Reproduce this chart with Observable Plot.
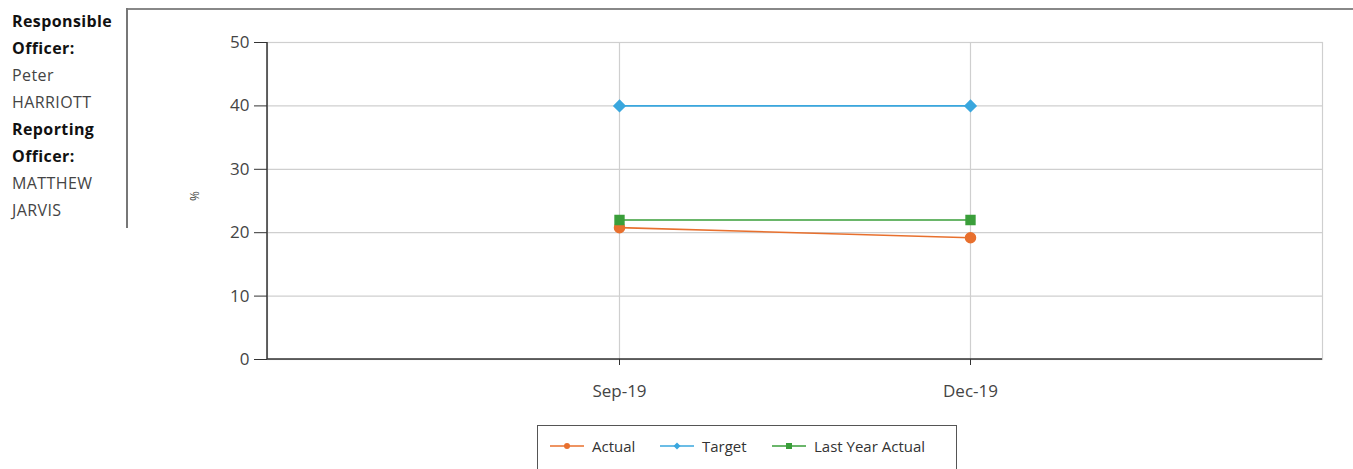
<!DOCTYPE html>
<html>
<head>
<meta charset="utf-8">
<script src="https://cdn.jsdelivr.net/npm/d3@7"></script>
<script src="https://cdn.jsdelivr.net/npm/@observablehq/plot@0.6"></script>
<style>
  html, body { margin: 0; padding: 0; background: #fff; }
  body { width: 1353px; height: 469px; position: relative; overflow: hidden; font-family: "Open Sans", "Noto Sans", sans-serif; }
  #chart { position: absolute; left: 0; top: 0; }
  #info { position: absolute; left: 12px; top: 8px; font-size: 16px; letter-spacing: 0.4px; line-height: 27px; color: #444; }
  #info b { color: #111; }
  .vline { position: absolute; left: 126px; top: 8px; width: 1.5px; height: 220px; background: #777; }
  .hline { position: absolute; left: 126px; top: 8px; width: 1227px; height: 1.5px; background: #888; }
  #legend { position: absolute; left: 537px; top: 425px; width: 420px; height: 50px; border: 1.5px solid #555; box-sizing: border-box; font-size: 15px; color: #333; }
  #legend .item { position: absolute; top: 10px; display: flex; align-items: center; white-space: nowrap; }
  #legend svg { margin-right: 8px; }
</style>
</head>
<body>
<div class="hline"></div>
<div class="vline"></div>
<div id="info"></div>
<div id="chart"></div>
<div id="legend"></div>
<script>
const months = ["Sep-19", "Dec-19"];
const actual = [20.8, 19.2];
const target = [40, 40];
const lastYearActual = [22, 22];
const seriesNames = ["Actual", "Target", "Last Year Actual"];
const seriesColors = ["#e8702e", "#3aa7de", "#3a9e3a"];
const seriesSymbols = ["circle", "diamond2", "square"];
const yTicks = [0, 10, 20, 30, 40, 50];
const infoLines = [["Responsible", true], ["Officer:", true], ["Peter", false], ["HARRIOTT", false], ["Reporting", true], ["Officer:", true], ["MATTHEW", false], ["JARVIS", false]];

document.getElementById("info").innerHTML = infoLines.map(([t, b]) => b ? `<b>${t}</b>` : t).join("<br>");

const seriesValues = [actual, target, lastYearActual];
const data = [];
seriesNames.forEach((s, i) => months.forEach((m, j) => data.push({series: s, month: m, value: seriesValues[i][j]})));

const chart = Plot.plot({
  width: 1353,
  height: 415,
  marginLeft: 267,
  marginRight: 31,
  marginTop: 42,
  marginBottom: 56,
  style: {fontFamily: "'Open Sans', 'Noto Sans', sans-serif", fontSize: "17px", color: "#444", background: "transparent"},
  x: {type: "point", domain: months, padding: 1, label: null},
  y: {domain: [0, 50], ticks: yTicks, label: null},
  color: {domain: seriesNames, range: seriesColors},
  symbol: {domain: seriesNames, range: seriesSymbols},
  marks: [
    Plot.frame({stroke: "#cfcfcf", strokeWidth: 1.2}),
    Plot.gridY(yTicks, {stroke: "#cfcfcf", strokeOpacity: 1, strokeWidth: 1.2}),
    Plot.gridX(months, {stroke: "#cfcfcf", strokeOpacity: 1, strokeWidth: 1.2}),
    Plot.axisY(yTicks, {tickSize: 13, tickPadding: 5, stroke: "#333", fontSize: 17, label: null}),
    Plot.text(["%"], {frameAnchor: "left", dx: -72, rotate: -90, fontSize: 12, fill: "#444"}),
    Plot.axisX(months, {tickSize: 6, tickPadding: 19, stroke: "#333", fontSize: 17, label: null}),
    Plot.line(data, {x: "month", y: "value", z: "series", stroke: "series", strokeWidth: 1.6}),
    Plot.dot(data, {x: "month", y: "value", fill: "series", stroke: "series", symbol: "series", r: 5})
  ]
});
document.getElementById("chart").appendChild(chart);

// dark axis lines on bottom and left of plot area
const svg = d3.select(chart);
svg.append("line").attr("x1", 267).attr("x2", 267).attr("y1", 42).attr("y2", 359).attr("stroke", "#333").attr("stroke-width", 1.5);
svg.append("line").attr("x1", 267).attr("x2", 1322).attr("y1", 359).attr("y2", 359).attr("stroke", "#333").attr("stroke-width", 1.5);

const legend = document.getElementById("legend");
const legendX = [12, 122, 234];
seriesNames.forEach((s, i) => {
  const div = document.createElement("div");
  div.className = "item";
  div.style.left = legendX[i] + "px";
  const sym = seriesSymbols[i];
  let marker = "";
  if (sym === "circle") marker = `<circle cx="17" cy="7" r="3" fill="${seriesColors[i]}"/>`;
  else if (sym === "square") marker = `<rect x="14" y="4" width="6" height="6" fill="${seriesColors[i]}"/>`;
  else marker = `<path d="M17 3.5 L20.5 7 L17 10.5 L13.5 7 Z" fill="${seriesColors[i]}"/>`;
  div.innerHTML = `<svg width="34" height="14"><line x1="0" x2="34" y1="7" y2="7" stroke="${seriesColors[i]}" stroke-width="1.5"/>${marker}</svg><span>${s}</span>`;
  legend.appendChild(div);
});
</script>
</body>
</html>
